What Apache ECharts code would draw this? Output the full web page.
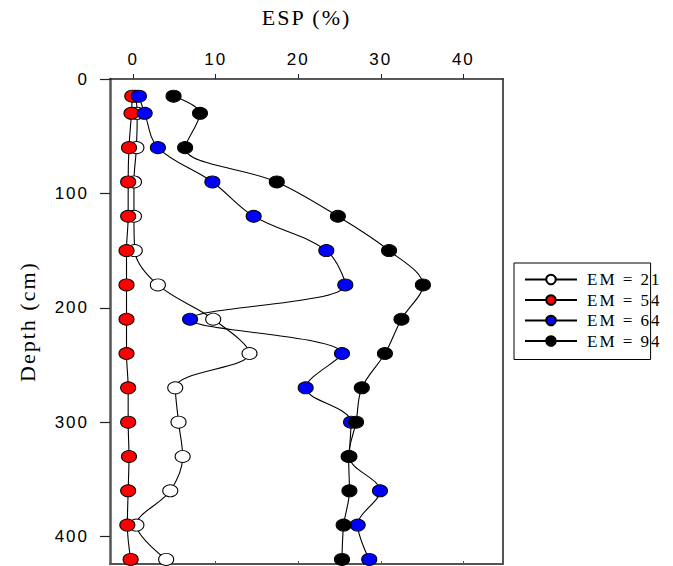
<!DOCTYPE html>
<html>
<head>
<meta charset="utf-8">
<script src="https://cdn.jsdelivr.net/npm/echarts@6/dist/echarts.min.js"></script>
<style>
html,body{margin:0;padding:0;background:#fff;}
#chart{width:673px;height:566px;}
#chart text{letter-spacing:2px;}
</style>
</head>
<body>
<div id="chart"></div>
<script>
const depths = [15, 30, 60, 90, 120, 150, 180, 210, 240, 270, 300, 330, 360, 390, 420];
const seriesNames = ['EM = 21', 'EM = 54', 'EM = 64', 'EM = 94'];
const em21 = [0.3, 0.5, 0.4, 0.1, 0.1, 0.2, 3.0, 9.7, 14.1, 5.1, 5.5, 6.0, 4.5, 0.4, 4.0];
const em54 = [-0.1, -0.2, -0.5, -0.6, -0.6, -0.8, -0.8, -0.8, -0.8, -0.6, -0.6, -0.5, -0.6, -0.7, -0.3];
const em64 = [0.7, 1.4, 3.0, 9.6, 14.6, 23.4, 25.7, 6.9, 25.3, 20.9, 26.4, 26.2, 29.9, 27.2, 28.6];
const em94 = [4.9, 8.1, 6.3, 17.4, 24.8, 31.0, 35.1, 32.5, 30.5, 27.7, 27.0, 26.1, 26.2, 25.5, 25.3];
const xTicks = [0, 10, 20, 30, 40];
const yTicks = [0, 100, 200, 300, 400];
const fills = ['#ffffff', '#ff0000', '#0000ff', '#000000'];
const allValues = [em21, em54, em64, em94];

const sans = 'Liberation Sans, Arial, sans-serif';
const serif = 'Liberation Serif, Times New Roman, serif';

const chart = echarts.init(document.getElementById('chart'), null, { renderer: 'svg' });
chart.setOption({
  animation: false,
  backgroundColor: '#fff',
  grid: { left: 110, top: 79, width: 393, height: 485, show: false },
  legend: {
    orient: 'vertical',
    left: 514, top: 263,
    padding: [8, 3, 10, 10],
    borderColor: '#000', borderWidth: 1,
    itemWidth: 52, itemHeight: 12, itemGap: 3.5,
    textStyle: { fontFamily: serif, fontSize: 17, color: '#000', padding: [0, 0, 0, 5] },
    data: seriesNames
  },
  xAxis: [{
    type: 'value', position: 'top', min: -2.8, max: 44.8,
    name: 'ESP (%)', nameLocation: 'middle', nameGap: 51,
    nameTextStyle: { fontFamily: serif, fontSize: 22, color: '#000' },
    axisLine: { show: true, onZero: false, lineStyle: { color: '#222', width: 1.5 } },
    axisTick: { show: true, inside: false, length: 5, customValues: xTicks, lineStyle: { color: '#222' } },
    axisLabel: { customValues: xTicks, fontFamily: sans, fontSize: 17, color: '#000', margin: 11 },
    splitLine: { show: false }
  }, {
    type: 'value', position: 'bottom', min: -2.8, max: 44.8,
    axisLine: { show: true, onZero: false, lineStyle: { color: '#555', width: 2 } },
    axisTick: { show: true, inside: true, length: 3, customValues: xTicks, lineStyle: { color: '#555' } },
    axisLabel: { show: false },
    splitLine: { show: false }
  }],
  yAxis: [{
    type: 'value', inverse: true, min: 0, max: 424, position: 'left',
    name: 'Depth (cm)', nameLocation: 'middle', nameGap: 72, nameRotate: 90,
    nameTextStyle: { fontFamily: serif, fontSize: 22, color: '#000' },
    axisLine: { show: true, onZero: false, lineStyle: { color: '#555', width: 2.5 } },
    axisTick: { show: true, inside: false, length: 10, customValues: yTicks, lineStyle: { color: '#222', width: 1.2 } },
    axisLabel: { customValues: yTicks, fontFamily: sans, fontSize: 17, color: '#000', margin: 21 },
    splitLine: { show: false }
  }, {
    type: 'value', inverse: true, min: 0, max: 424, position: 'right',
    axisLine: { show: true, onZero: false, lineStyle: { color: '#555', width: 2 } },
    axisTick: { show: false },
    axisLabel: { show: false },
    splitLine: { show: false }
  }],
  series: seriesNames.map((name, i) => ({
    name: name,
    type: 'line',
    xAxisIndex: 0, yAxisIndex: 0,
    smooth: 0.35,
    symbol: 'circle',
    symbolSize: [15, 12],
    z: 2 + i,
    itemStyle: { color: fills[i], borderColor: '#000', borderWidth: 1, opacity: 1 },
    lineStyle: { color: '#000', width: 1.1 },
    data: depths.map((d, k) => [allValues[i][k], d])
  }))
});
</script>
</body>
</html>
